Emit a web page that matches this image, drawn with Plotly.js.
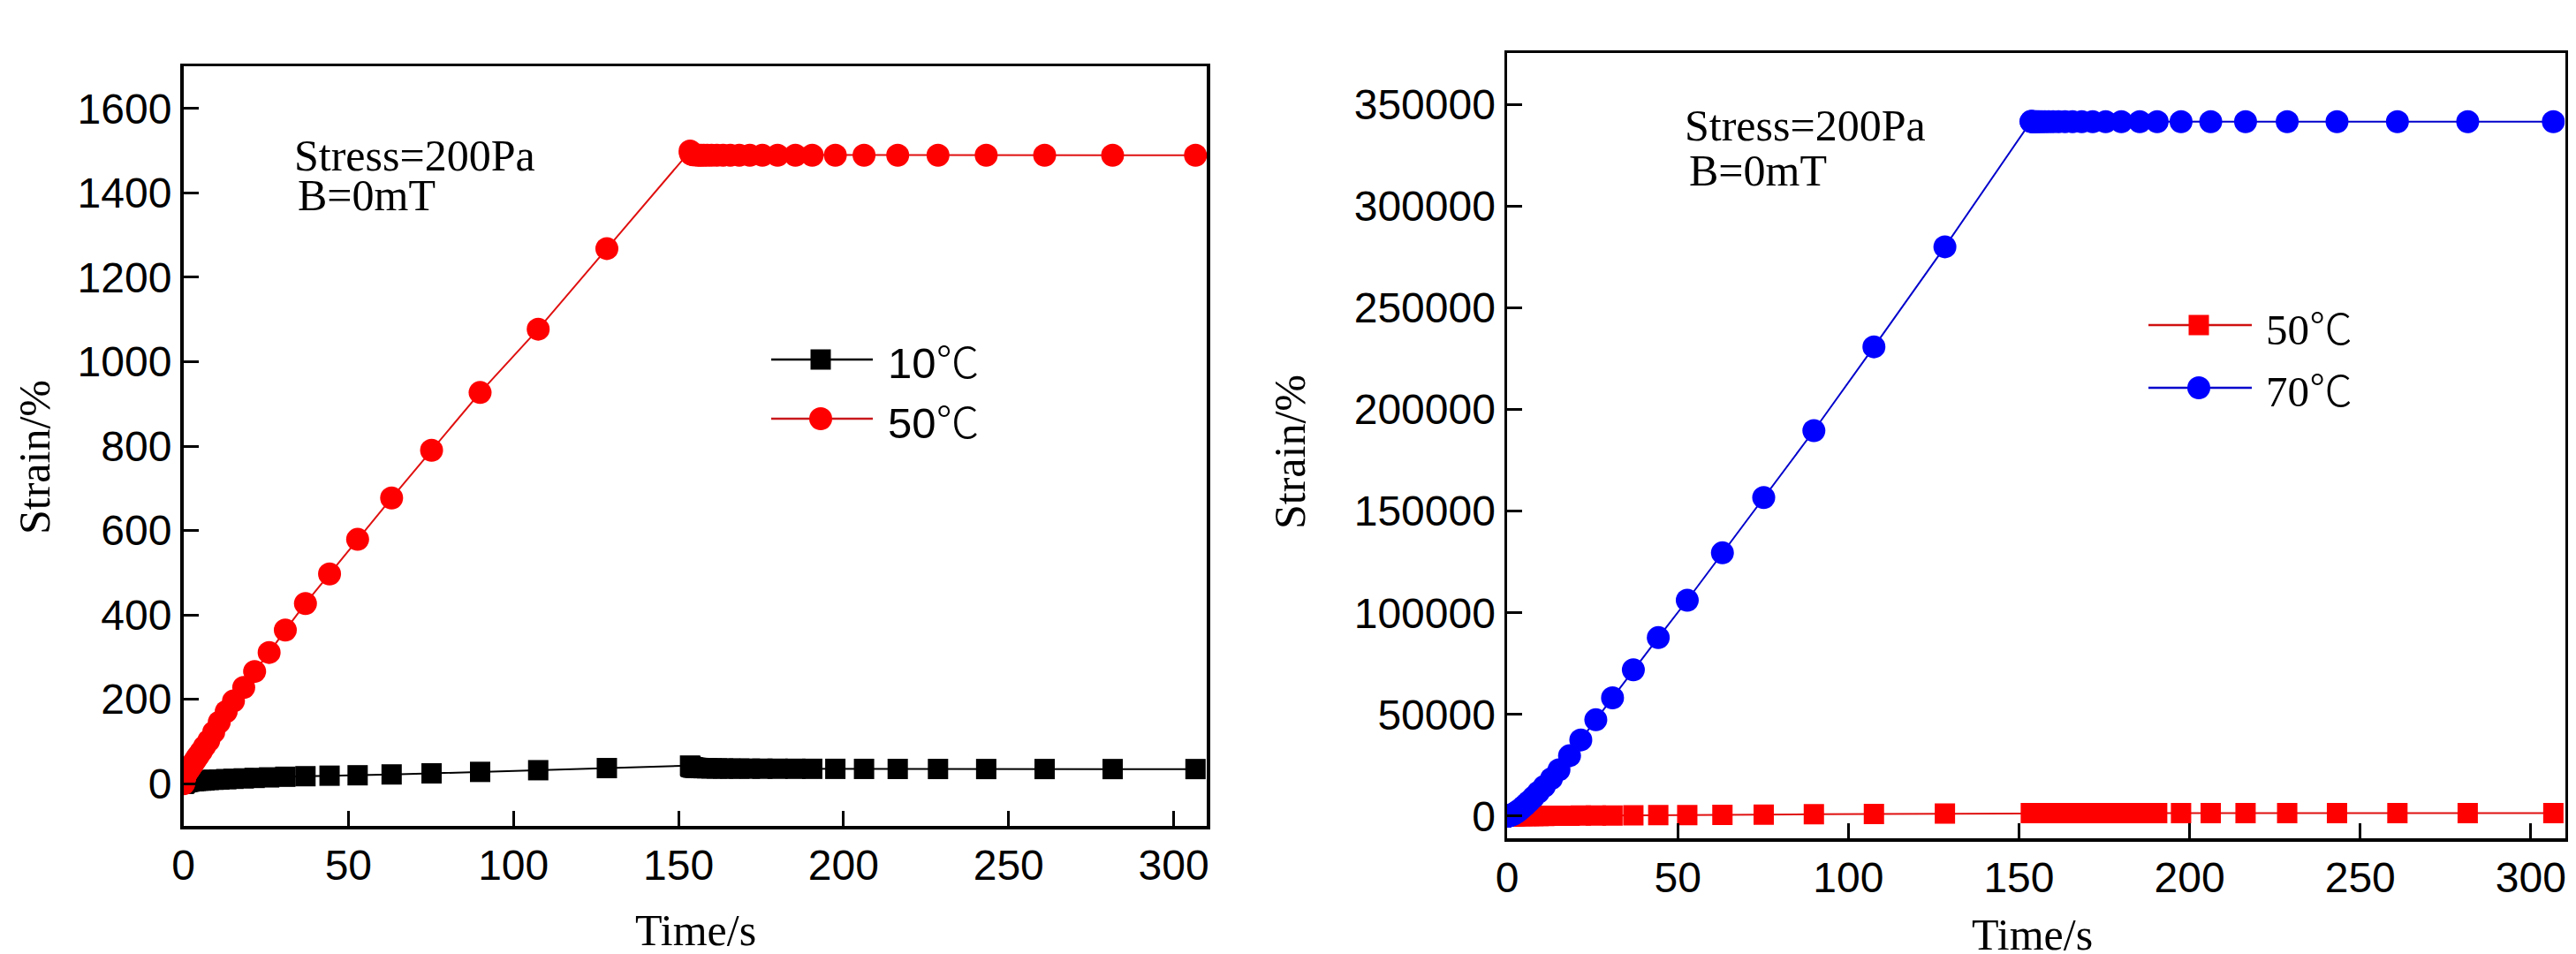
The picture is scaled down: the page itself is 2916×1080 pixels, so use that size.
<!DOCTYPE html>
<html>
<head>
<meta charset="utf-8">
<script src="https://cdn.plot.ly/plotly-3.0.1.min.js"></script>
<style>
  html, body { margin: 0; padding: 0; background: #fff; }
  #chart { width: 2916px; height: 1080px; }
</style>
</head>
<body>
<div id="chart"></div>
<script>
// creep test, time in s (loading part, then recovery part)
const timeS = [
  0.11, 0.13, 0.16, 0.19, 0.22, 0.27, 0.32, 0.38, 0.45, 0.54,
  0.65, 0.77, 0.92, 1.1, 1.3, 1.6, 1.9, 2.2, 2.7, 3.2,
  3.8, 4.5, 5.4, 6.4, 7.7, 9.2, 10.9, 13.0, 15.2, 18.3,
  21.6, 26.0, 30.9, 37.0, 44.3, 52.8, 63.1, 75.2, 89.9, 107.5,
  128.3, 153.5,
  153.6, 153.8, 154.1, 154.4, 154.8, 155.3, 155.9, 156.7, 157.6, 158.7,
  160.0, 161.6, 163.5, 165.7, 168.4, 171.6, 175.4, 180.0, 185.4, 190.5,
  197.5, 206.2, 216.4, 228.6, 243.2, 260.9, 281.5, 306.6
];

// strain in %
const strain10 = [
  0, 0.5, 1.0, 1.3, 1.7, 2.0, 2.3, 2.6, 2.9, 3.2,
  3.5, 3.8, 4.1, 4.4, 4.7, 5.0, 5.3, 5.6, 6.0, 6.3,
  6.7, 7.1, 7.5, 8.0, 8.6, 9.2, 9.9, 10.7, 11.6, 12.6,
  13.7, 15.0, 16.5, 17.8, 19.0, 20.0, 22.0, 24.5, 28.0, 32.0,
  37.0, 43.0,
  41.0, 39.8, 39.0, 38.4, 38.0, 37.6, 37.3, 37.0, 36.8, 36.6,
  36.4, 36.2, 36.0, 35.9, 35.8, 35.7, 35.6, 35.5, 35.4, 35.3,
  35.2, 35.1, 35.0, 34.9, 34.8, 34.8, 34.7, 34.7
];

const strain50 = [
  0, 3, 5, 7, 9, 11, 13, 15, 17, 19,
  21, 23, 25, 28, 30, 33, 36, 40, 45, 51,
  58, 66, 76, 88, 102, 122, 146, 171, 196, 228,
  266, 311, 364, 427, 497, 579, 677, 790, 927, 1077,
  1268, 1499,
  1494, 1492, 1491, 1490, 1490, 1490, 1489, 1489, 1489, 1489,
  1489, 1489, 1489, 1489, 1489, 1489, 1489, 1489, 1489, 1489,
  1489, 1489, 1489, 1489, 1489, 1489, 1489, 1489
];

const strain70 = [
  0, 10, 20, 35, 50, 70, 100, 130, 170, 220,
  280, 350, 440, 550, 690, 870, 1100, 1400, 1900, 2500,
  3300, 4300, 5600, 7200, 9300, 11800, 14700, 18500, 22800, 29700,
  37500, 47400, 58200, 72000, 87800, 106200, 129500, 156700, 189600, 230800,
  280000, 341600,
  341600, 341600, 341500, 341500, 341500, 341500, 341500, 341500, 341500, 341500,
  341500, 341500, 341500, 341500, 341500, 341500, 341500, 341500, 341500, 341500,
  341500, 341500, 341500, 341500, 341500, 341500, 341500, 341500
];

const seriesNames = ['10℃', '50℃', '70℃'];
const noteLines = ['Stress=200Pa', 'B=0mT'];
const xTitle = 'Time/s';
const yTitle = 'Strain/%';

const W = 2916, H = 1080;
const px = x => x / W;
const py = y => 1 - y / H;

const SANS = 'Liberation Sans, Arial, sans-serif';
const SERIF = 'Liberation Serif, Times New Roman, serif';
const CJK = 'Noto Sans CJK SC';

// the degree sign comes from a CJK font, like the full-width glyph in the original
const label = s => s.replace('℃', '<span style="font-family:' + CJK + ';font-weight:300">℃</span>');

const traces = [
  { x: timeS, y: strain10, xaxis: 'x', yaxis: 'y', name: seriesNames[0], mode: 'lines+markers',
    line: { color: '#000000', width: 2 }, marker: { symbol: 'square', size: 23, color: '#000000' } },
  { x: timeS, y: strain50, xaxis: 'x', yaxis: 'y', name: seriesNames[1], mode: 'lines+markers',
    line: { color: '#e01010', width: 2 }, marker: { symbol: 'circle', size: 26, color: '#ff0000' } },
  { x: timeS, y: strain50, xaxis: 'x2', yaxis: 'y2', name: seriesNames[1], mode: 'lines+markers',
    line: { color: '#e01010', width: 2 }, marker: { symbol: 'square', size: 23, color: '#ff0000' } },
  { x: timeS, y: strain70, xaxis: 'x2', yaxis: 'y2', name: seriesNames[2], mode: 'lines+markers',
    line: { color: '#0000cc', width: 2 }, marker: { symbol: 'circle', size: 26, color: '#0000ff' } }
];

const axisBase = {
  showline: true, linecolor: '#000', linewidth: 3.5, mirror: true,
  ticks: 'inside', ticklen: 17, tickwidth: 3, tickcolor: '#000',
  showgrid: false, zeroline: false, fixedrange: true,
  tickfont: { family: SANS, size: 48, color: '#000' }
};

// legend keys drawn by hand so the sample line has the original length
function legendKey(x0, x1, xm, y, lineColor, markColor, symbol, size) {
  const out = [{ type: 'line', xref: 'paper', yref: 'paper',
    x0: px(x0), x1: px(x1), y0: py(y), y1: py(y), line: { color: lineColor, width: 2.5 } }];
  const h = size / 2;
  out.push({ type: symbol === 'square' ? 'rect' : 'circle', xref: 'paper', yref: 'paper',
    x0: px(xm - h), x1: px(xm + h), y0: py(y + h), y1: py(y - h),
    fillcolor: markColor, line: { width: 0 } });
  return out;
}

const shapes = [].concat(
  legendKey(873, 988, 929, 407, '#000000', '#000000', 'square', 23),
  legendKey(873, 988, 929, 474, '#c8181c', '#ff0000', 'circle', 26),
  legendKey(2432, 2549, 2489, 368, '#d01010', '#ff0000', 'square', 23),
  legendKey(2432, 2549, 2489, 439, '#0000cc', '#0000ff', 'circle', 26)
);

function note(text, x, y, font, size, extra) {
  return Object.assign({ text: text, xref: 'paper', yref: 'paper', x: px(x), y: py(y),
    xanchor: 'left', yanchor: 'middle', showarrow: false,
    font: { family: font, size: size, color: '#000' } }, extra || {});
}

const annotations = [
  note(noteLines[0], 331, 176, SERIF, 50),
  note(noteLines[1], 335, 221, SERIF, 50),
  note(noteLines[0], 1905, 142, SERIF, 50),
  note(noteLines[1], 1910, 193, SERIF, 50),
  note(label(seriesNames[0]), 1003, 407, SANS, 49),
  note(label(seriesNames[1]), 1003, 474, SANS, 49),
  note(label(seriesNames[1]), 2563, 368, SERIF, 49),
  note(label(seriesNames[2]), 2563, 439, SERIF, 49),
  note(xTitle, 787, 1053, SERIF, 50, { xanchor: 'center' }),
  note(xTitle, 2300, 1058, SERIF, 50, { xanchor: 'center' }),
  note(yTitle, 39, 518, SERIF, 50, { xanchor: 'center', textangle: -90 }),
  note(yTitle, 1460, 512, SERIF, 50, { xanchor: 'center', textangle: -90 })
];

const layout = {
  width: W, height: H,
  margin: { l: 0, r: 0, t: 0, b: 0 },
  paper_bgcolor: '#fff', plot_bgcolor: '#fff',
  showlegend: false,
  xaxis: Object.assign({}, axisBase, { domain: [px(207.5), px(1366)], range: [0, 310],
    tick0: 0, dtick: 50, anchor: 'y' }),
  yaxis: Object.assign({}, axisBase, { domain: [py(935), py(75)], range: [-100, 1700],
    tick0: 0, dtick: 200, anchor: 'x' }),
  xaxis2: Object.assign({}, axisBase, { domain: [px(1706), px(2903.5)], range: [0, 310],
    tick0: 0, dtick: 50, anchor: 'y2' }),
  yaxis2: Object.assign({}, axisBase, { domain: [py(949.3), py(60)], range: [-11000, 375300],
    tick0: 0, dtick: 50000, tickformat: 'd', anchor: 'x2' }),
  shapes: shapes,
  annotations: annotations
};

Plotly.newPlot('chart', traces, layout, { staticPlot: true, displayModeBar: false });
</script>
</body>
</html>
